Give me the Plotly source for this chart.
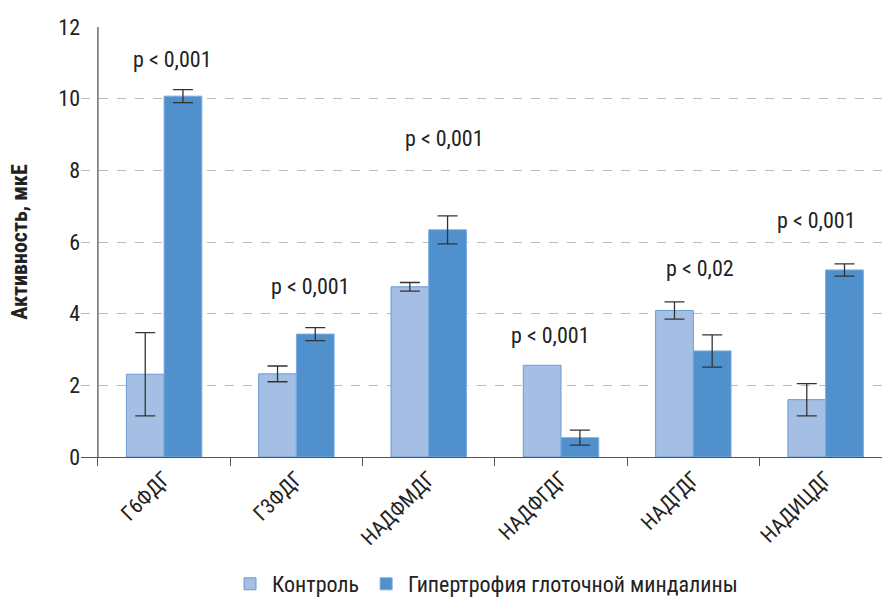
import plotly.graph_objects as go

# Enzyme activity by group
categories = ["Г6ФДГ", "Г3ФДГ", "НАДФМДГ", "НАДФГДГ", "НАДГДГ", "НАДИЦДГ"]
control = [2.31, 2.32, 4.75, 2.56, 4.09, 1.60]
control_err = [1.16, 0.22, 0.12, None, 0.24, 0.45]
hypertrophy = [10.07, 3.43, 6.34, 0.54, 2.96, 5.22]
hypertrophy_err = [0.18, 0.18, 0.39, 0.21, 0.45, 0.17]

# Significance labels: text, x (category units), y (activity units)
p_texts = ["p < 0,001", "p < 0,001", "p < 0,001", "p < 0,001", "p < 0,02", "p < 0,001"]
p_x = [0.06, 1.11, 2.12, 2.92, 4.05, 4.93]
p_y = [11.1, 4.77, 8.9, 3.38, 5.27, 6.6]

FONT = "Liberation Sans Narrow, Roboto Condensed, DejaVu Sans Condensed, sans-serif"
ERR_COLOR = "#333333"
CTRL_FILL, CTRL_LINE = "#a4bfe3", "#6a9ad3"
HYP_FILL, HYP_LINE = "#4f90cd", "#7aaadd"

# control bars with error bars go in one trace; bars without a spread go in a
# second trace sharing the same offset slot
with_err = [i for i, e in enumerate(control_err) if e is not None]
no_err = [i for i, e in enumerate(control_err) if e is None]

fig = go.Figure()
fig.add_trace(go.Bar(
    x=[categories[i] for i in with_err], y=[control[i] for i in with_err],
    name="Контроль", offsetgroup="control", legendgroup="control",
    marker=dict(color=CTRL_FILL, line=dict(color=CTRL_LINE, width=1)),
    error_y=dict(type="data", array=[control_err[i] for i in with_err],
                 color=ERR_COLOR, thickness=1.3, width=10),
))
fig.add_trace(go.Bar(
    x=[categories[i] for i in no_err], y=[control[i] for i in no_err],
    name="Контроль", offsetgroup="control", legendgroup="control", showlegend=False,
    marker=dict(color=CTRL_FILL, line=dict(color=CTRL_LINE, width=1)),
))
fig.add_trace(go.Bar(
    x=categories, y=hypertrophy, name="Гипертрофия глоточной миндалины",
    offsetgroup="hyp",
    marker=dict(color=HYP_FILL, line=dict(color=HYP_LINE, width=1)),
    error_y=dict(type="data", array=hypertrophy_err, color=ERR_COLOR, thickness=1.3, width=10),
))

for t, x, y in zip(p_texts, p_x, p_y):
    fig.add_annotation(x=x, y=y, text=t, showarrow=False, xref="x", yref="y",
                       font=dict(family=FONT, size=22, color="#222222"))

# vertical axis line at the first category boundary
fig.add_shape(type="line", xref="x", yref="y", x0=-0.5, x1=-0.5, y0=0, y1=12,
              line=dict(color="#555555", width=1.3))

fig.update_layout(
    width=882, height=605,
    margin=dict(l=81, r=0, t=27, b=148, autoexpand=False),
    plot_bgcolor="white", paper_bgcolor="white",
    barmode="group", bargap=0.43, bargroupgap=0,
    font=dict(family=FONT, size=20, color="#222222"),
    showlegend=True,
    legend=dict(orientation="h", x=0.505, xanchor="center",
                yref="container", y=-0.013, yanchor="bottom",
                font=dict(family=FONT, size=22, color="#222222"),
                itemwidth=34, traceorder="normal"),
    xaxis=dict(
        type="category", categoryorder="array", categoryarray=categories,
        range=[-0.628, 5.426], automargin=False,
        tickson="boundaries", ticks="outside", ticklen=8, tickcolor="#555555",
        tickangle=-45, showline=True, linecolor="#555555", linewidth=1.3,
        showgrid=False, tickfont=dict(family=FONT, size=21, color="#222222"),
    ),
    yaxis=dict(
        range=[0, 12], dtick=2, showgrid=True, gridcolor="#bbbbbb", griddash="dash",
        gridwidth=1, zeroline=False, showline=False, ticks="", automargin=False,
        tickfont=dict(family=FONT, size=22, color="#222222"),
        title=dict(text="<b>Активность, мкЕ</b>", font=dict(family=FONT, size=22, color="#222222"),
                   standoff=24),
    ),
)

fig.write_html("out.html")
